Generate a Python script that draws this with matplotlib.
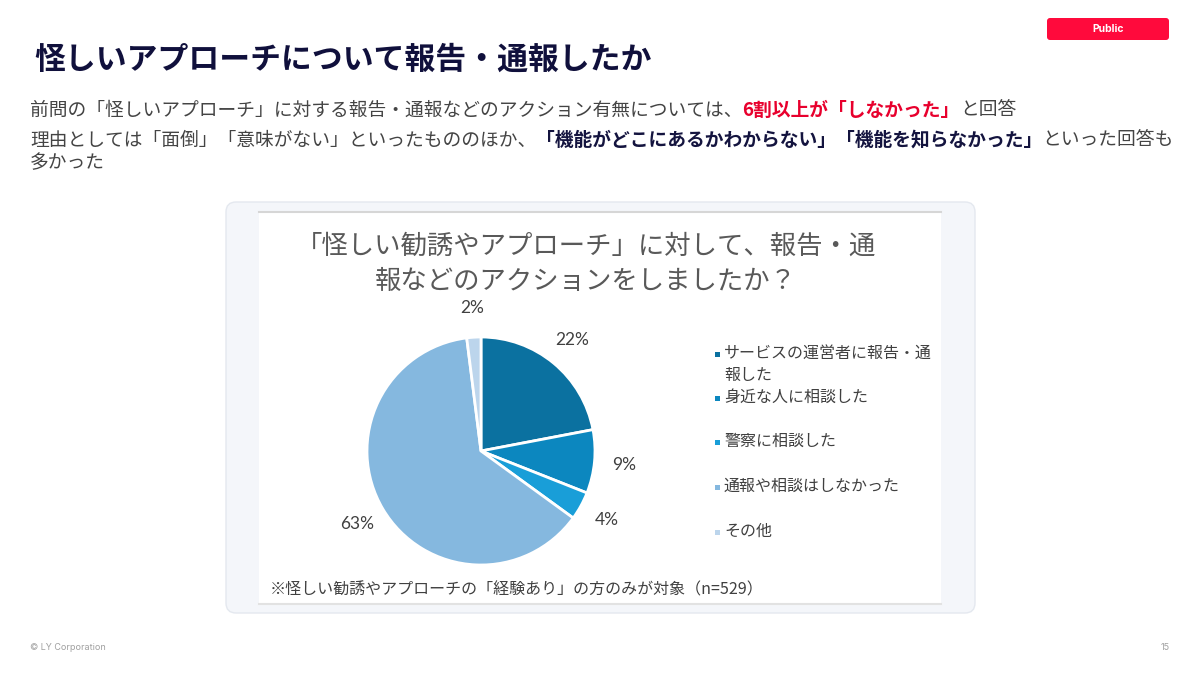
import matplotlib
matplotlib.use("Agg")
import matplotlib.pyplot as plt
from matplotlib.patches import FancyBboxPatch, Rectangle

plt.rcParams['font.family'] = ['Noto Sans CJK JP', 'DejaVu Sans']

# ---- data ----
categories = ["サービスの運営者に報告・通\n報した", "身近な人に相談した", "警察に相談した",
              "通報や相談はしなかった", "その他"]
values = [22, 9, 4, 63, 2]
colors = ["#0b71a0", "#0c87bf", "#199ed8", "#85b8df", "#bcd5ec"]

slide_title = "怪しいアプローチについて報告・通報したか"
chart_title = "「怪しい勧誘やアプローチ」に対して、報告・通\n報などのアクションをしましたか？"
footnote = "※怪しい勧誘やアプローチの「経験あり」の方のみが対象（n=529）"
line1 = [("前問の「怪しいアプローチ」に対する報告・通報などのアクション有無については、", "#444444", "normal"),
         ("6割以上が「しなかった」", "#e8002d", "bold"),
         ("と回答", "#444444", "normal")]
line2 = [("理由としては「面倒」「意味がない」といったもののほか、", "#444444", "normal"),
         ("「機能がどこにあるかわからない」「機能を知らなかった」", "#14143f", "bold"),
         ("といった回答も", "#444444", "normal")]
line3 = [("多かった", "#444444", "normal")]

W, H = 1200, 675
fig = plt.figure(figsize=(12, 6.75), dpi=100)
bg = fig.add_axes([0, 0, 1, 1])
bg.set_xlim(0, W)
bg.set_ylim(H, 0)
bg.axis('off')

# title
bg.text(34, 60, slide_title, fontsize=22.2, fontweight='bold', color='#10103c', va='center', ha='left')

# public badge
bg.add_patch(FancyBboxPatch((1047, 18), 122, 22, boxstyle="round,pad=0,rounding_size=3",
                            fc='#ff0a3c', ec='none'))
bg.text(1108, 29.5, "Public", color='white', fontsize=7.5, fontweight='bold',
        family=['Inter', 'DejaVu Sans'], ha='center', va='center')

def rich(x, y, parts, size=13.5):
    t = None
    for txt, col, wt in parts:
        if t is None:
            t = bg.text(x, y, txt, color=col, fontweight=wt, fontsize=size, va='center', ha='left')
        else:
            t = bg.annotate(txt, xy=(1, 0.5), xycoords=t, xytext=(0, 0), textcoords='offset points',
                            color=col, fontweight=wt, fontsize=size, va='center', ha='left')
    return t

rich(30, 110, line1)
rich(30, 140, line2)
rich(30, 163, line3)

# card
bg.add_patch(FancyBboxPatch((226, 202), 749, 411, boxstyle="round,pad=0,rounding_size=10",
                            fc='#f4f6fa', ec='#e4e8ef', lw=1))
bg.add_patch(Rectangle((259, 211), 682, 393, fc='white', ec='none'))
bg.plot([259, 941], [211.5, 211.5], color='#d6d6d6', lw=1.5)
bg.plot([259, 941], [604, 604], color='#e2e2e2', lw=1.5)

bg.text(586, 264, chart_title, fontsize=19, color='#595959', ha='center', va='center',
        linespacing=1.4)

bg.text(270, 590, footnote, fontsize=11.5, color='#404040', ha='left', va='center')

# legend (manual layout)
leg_y = [354, 398, 442, 487, 532]
for lab, col, yy in zip(categories, colors, leg_y):
    bg.add_patch(Rectangle((714.5, yy - 2.5), 5, 5, fc=col, ec='none'))
    bg.text(724, yy - 9, lab, fontsize=11.5, color='#404040', ha='left', va='top', linespacing=1.4)

# pie
cx, cy, r = 481, 451, 114
ax = fig.add_axes([(cx - r) / W, (H - cy - r) / H, 2 * r / W, 2 * r / H])
wedges, texts, autotexts = ax.pie(values, colors=colors, startangle=90, counterclock=False,
       wedgeprops=dict(edgecolor='white', linewidth=2),
       autopct=lambda p: f"{p:.0f}%", pctdistance=1.26,
       textprops=dict(fontsize=12.5, color='#404040', family=['Lato', 'DejaVu Sans']))
ax.set_xlim(-1, 1)
ax.set_ylim(-1, 1)
ax.set_aspect('equal')
ax.axis('off')

# footer
bg.text(30, 648, "© LY Corporation", fontsize=6.5, color='#a0a0a0', family=['Inter', 'DejaVu Sans'],
        ha='left', va='center')
bg.text(1170, 647, "15", fontsize=6.5, color='#a0a0a0', family=['Inter', 'DejaVu Sans'],
        ha='right', va='center')

fig.savefig("out.png", dpi=100)
